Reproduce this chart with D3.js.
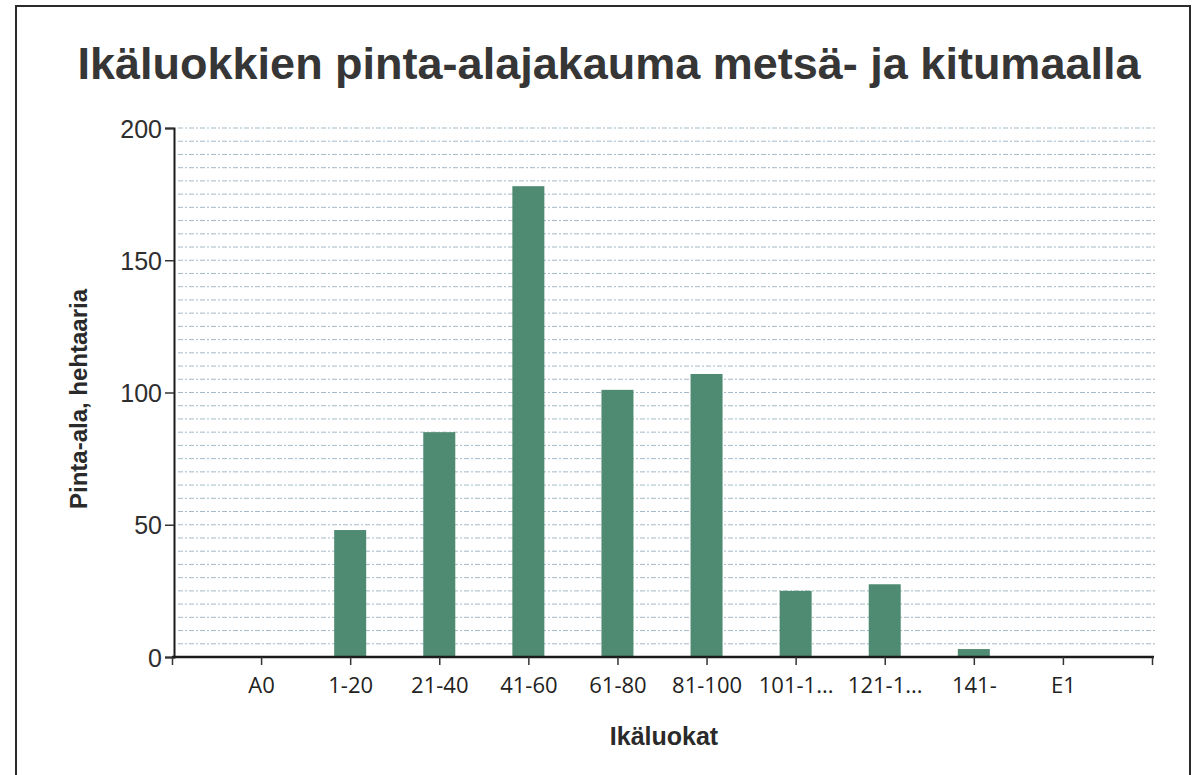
<!DOCTYPE html>
<html>
<head>
<meta charset="utf-8">
<script src="https://cdn.jsdelivr.net/npm/d3@7"></script>
<style>
body { margin:0; background:#fff; }
svg { display:block; }
</style>
</head>
<body>
<script>
// ikäluokat ja pinta-alat (ha)
var categories = ["A0","1-20","21-40","41-60","61-80","81-100","101-1...","121-1...","141-","E1"]
var values = [0, 48, 85, 178, 101, 107, 25, 27.5, 3, 0]
var yTicks = [0, 50, 100, 150, 200]
var title = "Ikäluokkien pinta-alajakauma metsä- ja kitumaalla"
var xTitle = "Ikäluokat"
var yTitle = "Pinta-ala, hehtaaria"

var width = 1192, height = 775
var plot = {left:174, right:1153, top:128, bottom:657}

var svg = d3.select("body").append("svg")
	.attr("width", width)
	.attr("height", height)

// kehys
svg.append("rect")
	.attr("x",16).attr("y",6)
	.attr("width",1174).attr("height",820)
	.attr("fill","none")
	.attr("stroke","#2b2b2b")
	.attr("stroke-width",2)

svg.append("text")
	.attr("x",609).attr("y",79)
	.attr("text-anchor","middle")
	.attr("font-family","'Liberation Sans', Arial, sans-serif")
	.attr("font-weight","bold")
	.attr("font-size",45)
	.attr("fill","#363636")
	.text(title)

// pad keys so categories sit on inner ticks
var domain = ["_s"].concat(categories).concat(["_e"])
var scaleX = d3.scalePoint().domain(domain).range([plot.left-2, plot.right-1])
var scaleY = d3.scaleLinear().domain([0,200]).range([plot.bottom, plot.top])

// minor gridlines every 5
var grid = d3.range(5, 201, 5)
svg.append("g")
	.attr("class","grid")
	.selectAll("line")
	.data(grid)
	.enter()
	.append("line")
	.attr("x1",plot.left+4)
	.attr("x2",plot.right+2)
	.attr("y1",function(d){return scaleY(d)})
	.attr("y2",function(d){return scaleY(d)})
	.attr("stroke","#8faabb")
	.attr("stroke-width",1)
	.attr("stroke-dasharray","5,2,2,2")
	.attr("opacity",0.8)

var barW = 32
svg.append("g")
	.attr("class","bars")
	.selectAll("rect")
	.data(values)
	.enter()
	.append("rect")
	.attr("x",function(d,i){return scaleX(categories[i]) - barW/2})
	.attr("y",function(d){return scaleY(d)})
	.attr("width",barW)
	.attr("height",function(d){return plot.bottom - scaleY(d)})
	.attr("fill","#4f8a72")

var yAxis = d3.axisLeft(scaleY).tickValues(yTicks).tickSize(9).tickPadding(3)
var gy = svg.append("g")
	.attr("class","y axis")
	.attr("transform","translate("+plot.left+",0)")
	.call(yAxis)
gy.select(".domain").attr("stroke","#1a1a1a").attr("stroke-width",2)
gy.selectAll(".tick line").attr("stroke","#333").attr("stroke-width",1.5)
gy.selectAll("text")
	.attr("font-family","'Liberation Sans', Arial, sans-serif")
	.attr("font-size",25)
	.attr("fill","#2e2e2e")
	.attr("dy","0.36em")

var xAxis = d3.axisBottom(scaleX)
	.tickSize(8).tickPadding(12)
	.tickFormat(function(d){return d.charAt(0)=="_" ? "" : d})
var gx = svg.append("g")
	.attr("class","x axis")
	.attr("transform","translate(0,"+plot.bottom+")")
	.call(xAxis)
gx.select(".domain")
	.attr("d","M"+(plot.left-2)+",0H"+(plot.right+1))
	.attr("stroke","#1a1a1a").attr("stroke-width",2.5)
gx.selectAll(".tick line").attr("stroke","#333").attr("stroke-width",1.5)
gx.selectAll("text")
	.attr("font-family","'Open Sans', sans-serif")
	.attr("font-size",22)
	.attr("fill","#222")

svg.append("text")
	.attr("x",664).attr("y",745)
	.attr("text-anchor","middle")
	.attr("font-family","'Liberation Sans', Arial, sans-serif")
	.attr("font-weight","bold")
	.attr("font-size",25)
	.attr("fill","#2a2a2a")
	.text(xTitle)

svg.append("text")
	.attr("transform","translate(87,399) rotate(-90)")
	.attr("text-anchor","middle")
	.attr("font-family","'Liberation Sans', Arial, sans-serif")
	.attr("font-weight","bold")
	.attr("font-size",24)
	.attr("fill","#2a2a2a")
	.text(yTitle)
</script>
</body>
</html>
